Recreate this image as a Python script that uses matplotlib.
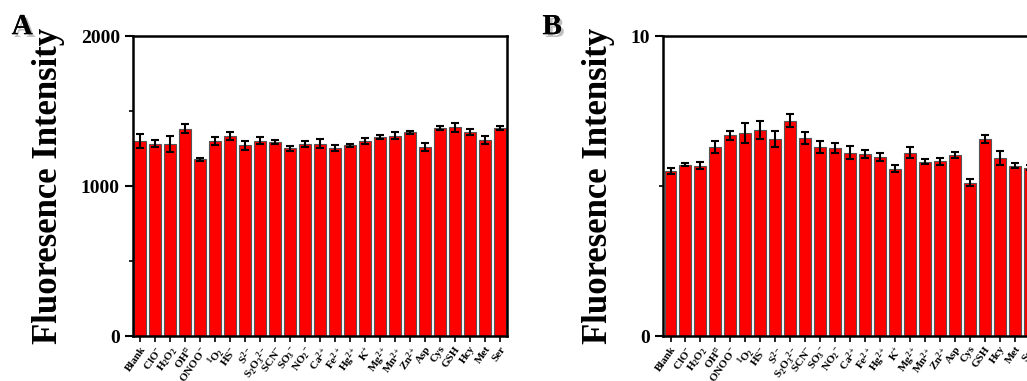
import matplotlib
matplotlib.use('Agg')
import matplotlib.pyplot as plt
import matplotlib.patheffects as pe
from matplotlib.ticker import MultipleLocator
import numpy as np

plt.rcParams['font.family'] = 'Liberation Serif'
plt.rcParams['font.weight'] = 'bold'
plt.rcParams['mathtext.fontset'] = 'custom'
plt.rcParams['mathtext.rm'] = 'Liberation Serif:bold'
plt.rcParams['mathtext.it'] = 'Liberation Serif:bold'
plt.rcParams['mathtext.bf'] = 'Liberation Serif:bold'
plt.rcParams['mathtext.default'] = 'regular'

labels = ['Blank', 'ClO$^{-}$', 'H$_2$O$_2$', 'OH$^{\\cdot}$', 'ONOO$^{-}$', '$^1$O$_2$',
          'HS$^{-}$', 'S$^{2-}$', 'S$_2$O$_3$$^{2-}$', 'SCN$^{-}$', 'SO$_3$$^{-}$',
          'NO$_2$$^{-}$', 'Ca$^{2+}$', 'Fe$^{2+}$', 'Hg$^{2+}$', 'K$^{+}$', 'Mg$^{2+}$',
          'Mn$^{2+}$', 'Zn$^{2+}$', 'Asp', 'Cys', 'GSH', 'Hcy', 'Met', 'Ser']

# panel A
vals_a = [1302, 1284, 1280, 1384, 1178, 1298, 1333, 1271, 1304, 1296, 1251, 1284, 1284,
          1253, 1271, 1302, 1327, 1336, 1358, 1258, 1387, 1393, 1362, 1307, 1387]
err_a = [45, 25, 55, 30, 12, 27, 27, 33, 25, 12, 16, 20, 27,
         18, 13, 20, 16, 22, 11, 27, 16, 29, 18, 27, 16]

# panel B
vals_b = [5.51, 5.72, 5.68, 6.31, 6.70, 6.78, 6.87, 6.57, 7.18, 6.60, 6.31, 6.27, 6.12,
          6.07, 5.98, 5.58, 6.12, 5.81, 5.83, 6.03, 5.12, 6.57, 5.93, 5.68, 5.61]
err_b = [0.09, 0.06, 0.11, 0.20, 0.15, 0.33, 0.29, 0.28, 0.22, 0.20, 0.19, 0.17, 0.22,
         0.14, 0.14, 0.11, 0.18, 0.08, 0.12, 0.10, 0.11, 0.12, 0.24, 0.08, 0.08]

fig = plt.figure(figsize=(10.27, 3.81), dpi=100)
ax1 = fig.add_axes([0.1295, 0.118, 0.3642, 0.787])
ax2 = fig.add_axes([0.6456, 0.118, 0.3642, 0.787])


def draw(ax, vals, errs, ymax, major, minor, letter):
    x = np.arange(len(vals))
    ax.bar(x, vals, width=0.8, color='#ff0000', edgecolor='#555555', linewidth=0.8,
           yerr=errs, capsize=3, error_kw=dict(ecolor='black', elinewidth=1.5, capthick=1.5))
    ax.set_xlim(-0.5, len(vals) - 0.5)
    ax.set_ylim(0, ymax)
    ax.yaxis.set_major_locator(MultipleLocator(major))
    ax.yaxis.set_minor_locator(MultipleLocator(minor))
    ax.set_xticks(x)
    ax.set_xticklabels(labels, rotation=55, ha='right', rotation_mode='anchor', fontsize=8)
    ax.tick_params(axis='x', direction='out', length=4, width=1.2, pad=2)
    ax.tick_params(axis='y', which='major', direction='out', length=6, width=1.5, labelsize=14)
    ax.tick_params(axis='y', which='minor', direction='out', length=3, width=1.2)
    for s in ax.spines.values():
        s.set_linewidth(1.8)
    ax.set_ylabel('Fluoresence Intensity', fontsize=25, fontweight='bold', labelpad=11)
    t = fig.text(ax.get_position().x0 - 0.108, 0.93, letter, fontsize=21, fontweight='bold',
                 ha='center', va='center')
    t.set_path_effects([pe.withSimplePatchShadow(offset=(2, -2), shadow_rgbFace='gray', alpha=0.5),
                        pe.Normal()])


draw(ax1, vals_a, err_a, 2000, 1000, 500, 'A')
draw(ax2, vals_b, err_b, 10, 10, 5, 'B')

fig.savefig('out.png', dpi=100)
